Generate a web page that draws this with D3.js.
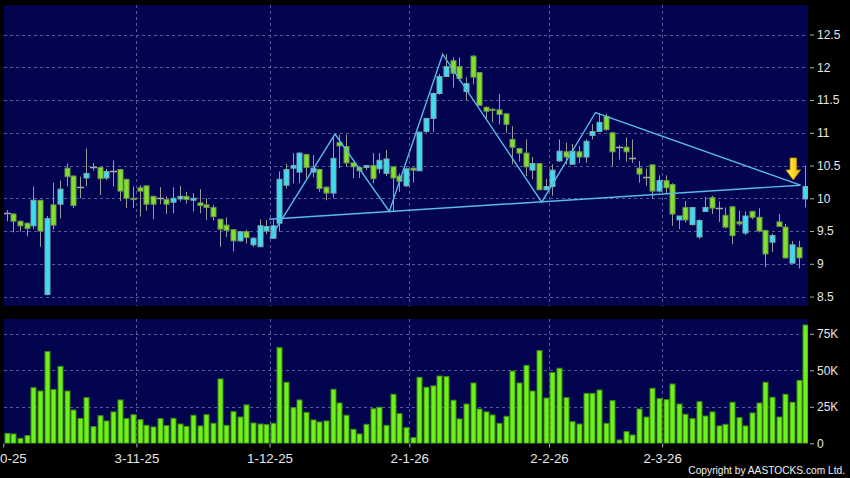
<!DOCTYPE html>
<html><head><meta charset="utf-8">
<script src="https://cdn.jsdelivr.net/npm/d3@7"></script>
<style>html,body{margin:0;padding:0;background:#000;}svg{display:block;}</style>
</head><body>
<svg id="c" width="850" height="478"></svg>
<script>
// ---- data (index 0 = 2-10-25 ... index 120 = 31-3-26) ----
const openP = [9.77,9.76,9.65,9.62,9.58,9.97,8.53,9.90,9.91,10.46,
10.34,10.18,10.31,10.48,10.47,10.31,10.42,10.44,10.29,10.00,
10.16,10.19,10.03,10.00,9.98,9.94,9.99,10.03,9.97,9.93,
9.90,9.86,9.68,9.59,9.52,9.35,9.49,9.29,9.26,9.50,
9.39,9.62,10.20,10.46,10.40,10.67,10.40,10.44,10.17,10.08,
10.85,10.79,10.54,10.47,10.47,10.50,10.45,10.38,10.48,10.34,
10.19,10.46,10.42,11.02,11.22,11.60,11.86,12.10,12.01,11.63,
12.17,11.92,11.39,11.36,11.35,11.29,10.90,10.76,10.69,10.43,
10.53,10.13,10.18,10.57,10.71,10.52,10.71,10.63,10.96,11.02,
11.25,11.00,10.78,10.78,10.61,10.46,10.33,10.51,10.11,10.27,
10.21,9.67,9.86,9.60,9.41,9.80,10.01,9.85,9.74,9.87,
9.64,9.47,9.80,9.71,9.51,9.33,9.64,9.56,9.01,9.25,
9.99];
const highP = [9.82,9.77,9.66,9.63,10.18,9.97,9.73,10.24,10.27,10.53,
10.35,10.33,10.76,10.54,10.48,10.45,10.58,10.45,10.30,10.18,
10.20,10.20,10.04,10.17,10.03,10.17,10.19,10.10,10.08,10.14,
10.00,9.90,9.69,9.71,9.53,9.50,9.52,9.41,9.68,9.67,
9.67,10.41,10.53,10.69,10.70,10.68,10.66,10.45,10.18,10.95,
10.97,10.97,10.55,10.49,10.50,10.69,10.69,10.74,10.49,10.38,
10.47,10.47,11.01,11.22,11.62,11.90,12.20,12.15,12.15,11.85,
12.19,11.92,11.40,11.37,11.59,11.30,11.10,10.77,10.90,10.63,
10.54,10.30,10.52,10.90,10.85,10.83,10.80,10.90,11.13,11.30,
11.29,11.01,10.81,10.93,10.90,10.57,10.45,10.52,10.35,10.35,
10.23,9.73,9.96,9.86,9.68,10.02,10.04,9.95,9.86,9.88,
9.81,9.80,9.81,9.85,9.52,9.46,9.76,9.61,9.35,9.35,
10.50];
const lowP = [9.65,9.48,9.49,9.42,9.53,9.26,8.52,9.52,9.69,10.18,
9.85,10.00,10.19,10.42,10.05,10.28,10.18,9.96,9.85,9.85,
9.72,9.81,9.68,9.91,9.76,9.77,9.95,9.92,9.80,9.77,
9.67,9.66,9.26,9.41,9.19,9.34,9.31,9.26,9.26,9.45,
9.39,9.49,10.15,10.23,10.23,10.31,10.32,10.10,9.97,10.00,
10.46,10.48,10.31,10.31,10.43,10.23,10.38,10.34,9.80,10.10,
10.17,10.24,10.42,11.00,11.01,11.58,11.85,11.69,11.79,11.49,
11.74,11.41,11.21,11.16,11.13,11.00,10.52,10.56,10.34,10.29,
10.13,10.12,10.04,10.56,10.52,10.51,10.54,10.54,10.90,11.01,
11.03,10.49,10.59,10.56,10.54,10.24,10.19,10.00,10.09,10.08,
9.58,9.53,9.63,9.58,9.38,9.79,9.76,9.64,9.54,9.30,
9.58,9.44,9.68,9.48,8.95,9.18,9.57,9.08,9.01,8.93,
9.86];
const closeP = [9.77,9.65,9.58,9.54,9.97,9.50,9.69,9.59,10.14,10.33,
9.89,10.18,10.38,10.48,10.30,10.41,10.42,10.11,10.00,9.98,
10.11,9.91,9.91,10.00,9.91,10.00,10.03,9.98,10.00,9.89,
9.86,9.72,9.53,9.51,9.35,9.49,9.40,9.39,9.58,9.57,
9.58,10.29,10.44,10.50,10.69,10.47,10.46,10.15,10.08,10.61,
10.80,10.54,10.48,10.42,10.50,10.30,10.58,10.60,10.31,10.26,
10.45,10.43,11.01,11.22,11.60,11.86,12.01,11.91,11.83,11.75,
11.85,11.42,11.33,11.34,11.28,11.13,10.78,10.69,10.48,10.53,
10.13,10.18,10.43,10.72,10.63,10.72,10.63,10.87,11.02,11.16,
11.05,10.71,10.78,10.71,10.61,10.37,10.33,10.11,10.27,10.16,
9.76,9.73,9.67,9.86,9.66,9.86,9.85,9.85,9.56,9.43,
9.61,9.73,9.71,9.50,9.15,9.43,9.57,9.09,9.29,9.09,
10.18];
const volumeK = [6.8,6.4,3.4,5.3,38.1,35.8,62.8,36.8,52.7,35.8,
22.8,17.1,31.3,11.4,18.9,15.3,21.5,29.7,16.9,19.6,
16.2,12.3,11.2,16.9,12.1,17.1,13.2,11.6,19.2,11.9,
19.6,13.7,44.1,12.3,21.7,18.0,26.3,13.9,13.2,12.8,
13.7,65.5,41.8,24.4,29.7,21.2,16.0,14.6,15.3,37.0,
27.6,19.2,9.6,6.4,13.0,23.7,24.7,12.3,33.6,20.3,
10.7,3.9,45.2,38.4,39.3,46.1,45.7,29.5,16.7,26.9,
41.3,23.5,21.5,19.4,13.7,18.5,49.5,41.3,53.4,35.8,
63.5,31.0,48.5,51.4,31.3,14.8,13.2,34.2,34.2,36.5,
13.7,29.2,2.3,8.0,5.7,23.5,18.0,37.7,30.6,29.9,
40.6,26.9,19.9,16.9,28.5,18.7,21.5,11.9,13.0,28.1,
17.6,11.9,20.8,27.6,41.8,31.5,18.0,33.6,28.1,43.1,
81.0];
const tickLabels = ["2-10-25","3-11-25","1-12-25","2-1-26","2-2-26","2-3-26"];
const tickIndex = [0,20,40,61,82,99];
const priceTicks = [8.5,9,9.5,10,10.5,11,11.5,12,12.5];
const volTicks = [0,25,50,75];
const volTickLabels = ["0","25K","50K","75K"];
const zigzagIdx = [39.57,49.34,57.5,65.52,80.4,88.48,119.28];
const zigzagPrice = [9.39,10.98,9.80,12.20,9.94,11.31,10.20];
const necklineIdx = [39.46,119.28];
const necklinePrice = [9.68,10.20];
const arrowIdx = [118.2];
const arrowTipPrice = [10.28];

// ---- layout ----
const svg = d3.select('#c');
const PL = 4, PR = 808;
const mainTop = 5, mainBot = 306, volTop = 319, volBot = 443.5;
const x = d3.scaleLinear().domain([-0.5,120.5]).range([3.3,808.6]);
const y = d3.scaleLinear().domain([8.5,12.5]).range([296.55,34.55]);
const yv = d3.scaleLinear().domain([0,75]).range([443.3,333.8]);
const bg = '#020450', gridC = '#5a5a98';
const cyan = '#3fdcef', green = '#80e02c';

svg.append('rect').attr('width',850).attr('height',478).attr('fill','#000');
svg.append('rect').attr('x',PL).attr('y',mainTop).attr('width',PR-PL).attr('height',mainBot-mainTop).attr('fill',bg);
svg.append('rect').attr('x',PL).attr('y',volTop).attr('width',PR-PL).attr('height',volBot-volTop).attr('fill',bg);

const defs = svg.append('defs');
defs.append('clipPath').attr('id','cm').append('rect').attr('x',PL).attr('y',mainTop).attr('width',PR-PL).attr('height',mainBot-mainTop);
defs.append('clipPath').attr('id','cv').append('rect').attr('x',PL).attr('y',volTop).attr('width',PR-PL).attr('height',volBot-volTop);
const grad = defs.append('linearGradient').attr('id','ag').attr('x1',0).attr('x2',1).attr('y1',0).attr('y2',0);
grad.append('stop').attr('offset','0%').attr('stop-color','#fff27a');
grad.append('stop').attr('offset','45%').attr('stop-color','#ffdc22');
grad.append('stop').attr('offset','100%').attr('stop-color','#f0b000');

// grids
const gm = svg.append('g').attr('clip-path','url(#cm)');
const gv = svg.append('g').attr('clip-path','url(#cv)');
gm.selectAll('.hg').data(priceTicks).join('line')
  .attr('x1',PL).attr('x2',PR).attr('y1',d=>Math.round(y(d))+0.5).attr('y2',d=>Math.round(y(d))+0.5)
  .attr('stroke',gridC).attr('stroke-dasharray','3,3');
gv.selectAll('.hg').data(volTicks.slice(1)).join('line')
  .attr('x1',PL).attr('x2',PR).attr('y1',d=>Math.round(yv(d))+0.5).attr('y2',d=>Math.round(yv(d))+0.5)
  .attr('stroke',gridC).attr('stroke-dasharray','3,3');
[gm,gv].forEach((g,k)=>{
  g.selectAll('.vg').data(tickIndex.slice(1)).join('line')
    .attr('x1',d=>Math.round(x(d-0.5))+0.5).attr('x2',d=>Math.round(x(d-0.5))+0.5)
    .attr('y1',k?volTop:mainTop).attr('y2',k?volBot:mainBot)
    .attr('stroke',gridC).attr('stroke-dasharray','3,3');
});

// candles
const idx = d3.range(openP.length);
const cg = gm.append('g');
cg.selectAll('.wick').data(idx).join('line')
  .attr('x1',i=>Math.round(x(i))+0.5).attr('x2',i=>Math.round(x(i))+0.5)
  .attr('y1',i=>y(highP[i])).attr('y2',i=>y(lowP[i]))
  .attr('stroke','#9a9a9a').attr('stroke-width',1);
cg.selectAll('.body').data(idx.filter(i=>openP[i]!==closeP[i])).join('rect')
  .attr('x',i=>Math.round(x(i))-2)
  .attr('width',5)
  .attr('y',i=>y(Math.max(openP[i],closeP[i])))
  .attr('height',i=>Math.max(1,Math.abs(y(openP[i])-y(closeP[i]))))
  .attr('fill',i=>closeP[i]>openP[i]?cyan:green)
  .attr('stroke',i=>closeP[i]>openP[i]?'#7aa8b0':'#6e9450').attr('stroke-width',1);
cg.selectAll('.doji').data(idx.filter(i=>openP[i]===closeP[i])).join('line')
  .attr('x1',i=>Math.round(x(i))-3).attr('x2',i=>Math.round(x(i))+4)
  .attr('y1',i=>Math.round(y(openP[i]))+0.5).attr('y2',i=>Math.round(y(openP[i]))+0.5)
  .attr('stroke','#a8a8a8').attr('stroke-width',1.5);

// pattern lines
const ln = d3.line().x(d=>x(d[0])).y(d=>y(d[1]));
gm.append('path').datum(necklineIdx.map((d,i)=>[d,necklinePrice[i]]))
  .attr('d',ln).attr('fill','none').attr('stroke','#5ab8ea').attr('stroke-width',1.4);
gm.append('path').datum(zigzagIdx.map((d,i)=>[d,zigzagPrice[i]]))
  .attr('d',ln).attr('fill','none').attr('stroke','#5ab8ea').attr('stroke-width',1.4);

// arrow
svg.selectAll('.arrow').data(arrowIdx).join('path')
  .attr('transform',(d,i)=>`translate(${x(d)},${y(arrowTipPrice[i])})`)
  .attr('d','M-3.2,-22 L3.2,-22 L3.2,-10 L7.3,-10 L0,0 L-7.3,-10 L-3.2,-10 Z')
  .attr('fill','url(#ag)').attr('stroke','#c08a00').attr('stroke-width',0.8);

// volume bars
gv.selectAll('.vb').data(idx).join('rect')
  .attr('x',i=>Math.round(x(i))-2)
  .attr('width',5)
  .attr('y',i=>yv(volumeK[i]))
  .attr('height',i=>yv(0)-yv(volumeK[i]))
  .attr('fill','#6ef01a').attr('stroke','#3f8c0c').attr('stroke-width',1);

// axes
const font = 'Liberation Sans, Arial, sans-serif';
const ay = svg.append('g').attr('transform',`translate(810,0)`)
  .call(d3.axisRight(y).tickValues(priceTicks).tickSize(4).tickPadding(3).tickFormat(d3.format('')));
const av = svg.append('g').attr('transform',`translate(810,0)`)
  .call(d3.axisRight(yv).tickValues(volTicks).tickSize(4).tickPadding(3).tickFormat((d,i)=>volTickLabels[i]));
const xt = d3.scaleLinear().domain(x.domain()).range(x.range());
const ax = svg.append('g').attr('transform',`translate(0,${volBot})`)
  .call(d3.axisBottom(xt).tickValues(tickIndex.map(d=>d-0.5)).tickSize(4).tickPadding(6).tickFormat((d,i)=>tickLabels[i]));
[ay,av,ax].forEach(g=>{
  g.select('.domain').remove();
  g.selectAll('.tick line').attr('stroke','#b0b0b0');
  g.selectAll('.tick text').attr('fill','#e6e6e6').attr('font-family',font);
});
ay.selectAll('.tick text').attr('font-size',12);
av.selectAll('.tick text').attr('font-size',12);
ax.selectAll('.tick text').attr('font-size',13.3);

svg.append('text').attr('x',845).attr('y',474).attr('text-anchor','end')
  .attr('font-family',font).attr('font-size',10.2).attr('fill','#f0f0f0')
  .text('Copyright by AASTOCKS.com Ltd.');
</script>
</body></html>
